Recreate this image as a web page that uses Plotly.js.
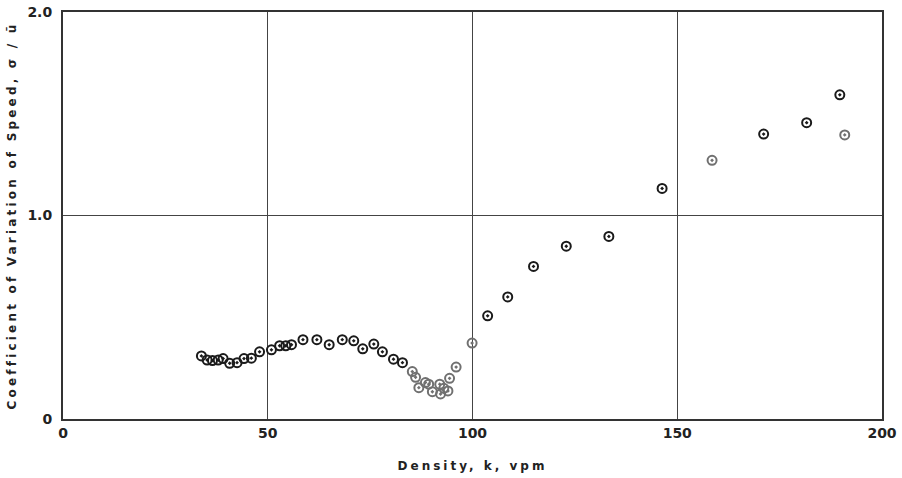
<!DOCTYPE html>
<html>
<head>
<meta charset="utf-8">
<script src="https://cdn.plot.ly/plotly-3.0.1.min.js"></script>
<style>
  html, body { margin: 0; padding: 0; background: #fff; }
  #chart { width: 902px; height: 478px; }
  .xtitle { letter-spacing: 3px; }
  .ytitle { letter-spacing: 3.2px; }
</style>
</head>
<body>
<div id="chart"></div>
<script>
// Density k (vpm) and coefficient of variation of speed (sigma / u-bar)
const darkDensity = [33.8, 35.2, 36.5, 37.9, 39.1, 40.7, 42.5, 44.2, 46.0, 48.0,
  50.9, 52.9, 54.4, 55.8, 58.6, 62.0, 65.0, 68.2, 71.0, 73.2, 75.9, 78.0, 80.7, 82.9,
  103.7, 108.6, 114.9, 122.9, 133.3, 146.3, 171.1, 181.6, 189.7];
const darkCV = [0.31, 0.29, 0.287, 0.29, 0.297, 0.274, 0.277, 0.297, 0.299, 0.33,
  0.34, 0.36, 0.36, 0.365, 0.39, 0.39, 0.365, 0.39, 0.384, 0.345, 0.368, 0.33, 0.294, 0.277,
  0.507, 0.60, 0.75, 0.849, 0.897, 1.133, 1.40, 1.456, 1.593];

const grayDensity = [85.3, 86.1, 86.9, 88.5, 89.3, 90.2, 92.0, 92.2, 93.0, 94.0, 94.4, 96.0,
  99.9, 158.5, 190.9];
const grayCV = [0.233, 0.205, 0.154, 0.179, 0.171, 0.134, 0.171, 0.123, 0.151, 0.138, 0.20, 0.255,
  0.373, 1.271, 1.396];

const xTicks = [0, 50, 100, 150, 200];
const xTickText = ['0', '50', '100', '150', '200'];
const yTicks = [0, 1.0, 2.0];
const yTickText = ['0', '1.0', '2.0'];

const markerDark = { symbol: 'circle-open-dot', size: 9, color: '#1a1a1a', line: { width: 2, color: '#1a1a1a' } };
const markerGray = { symbol: 'circle-open-dot', size: 9, color: '#707070', line: { width: 2, color: '#707070' } };

const traces = [
  { x: darkDensity, y: darkCV, mode: 'markers', type: 'scatter', marker: markerDark, hoverinfo: 'x+y' },
  { x: grayDensity, y: grayCV, mode: 'markers', type: 'scatter', marker: markerGray, hoverinfo: 'x+y' }
];

const tickFont = { family: 'DejaVu Sans, Arial, sans-serif', size: 14, color: '#222', weight: 'bold' };
const titleFont = { family: 'DejaVu Sans, Arial, sans-serif', size: 12, color: '#222', weight: 'bold' };

const layout = {
  width: 902, height: 478,
  margin: { l: 63, r: 20, t: 12, b: 59 },
  paper_bgcolor: '#ffffff',
  plot_bgcolor: '#ffffff',
  showlegend: false,
  xaxis: {
    range: [0, 200],
    tickvals: xTicks, ticktext: xTickText,
    showgrid: true, gridcolor: '#444', gridwidth: 1.3,
    showline: true, linecolor: '#333', linewidth: 2, mirror: true,
    zeroline: false, ticks: '',
    tickfont: tickFont,
    title: { text: 'Density, k, vpm', font: titleFont, standoff: 22 }
  },
  yaxis: {
    range: [0, 2.0],
    tickvals: yTicks, ticktext: yTickText,
    showgrid: true, gridcolor: '#444', gridwidth: 1.3,
    showline: true, linecolor: '#333', linewidth: 2, mirror: true,
    zeroline: false, ticks: '',
    ticklabelstandoff: 6,
    tickfont: tickFont,
    title: { text: 'Coefficient of Variation of Speed, σ / ū', font: titleFont, standoff: 8 }
  }
};

Plotly.newPlot('chart', traces, layout, { displayModeBar: false, staticPlot: true });
</script>
</body>
</html>
